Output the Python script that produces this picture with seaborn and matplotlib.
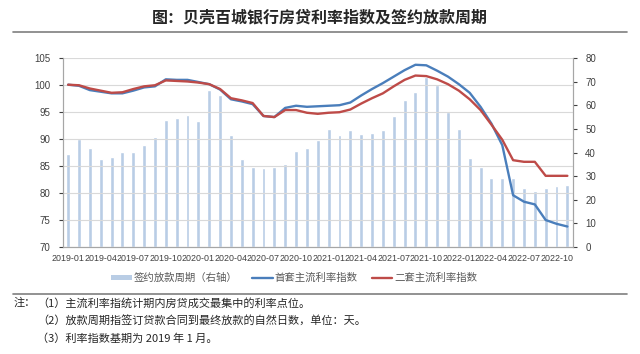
import matplotlib
matplotlib.use("Agg")
import matplotlib.pyplot as plt
from matplotlib.lines import Line2D
from matplotlib.patches import Patch
import seaborn as sns
import pandas as pd

months = [f"{y}-{m:02d}" for y in range(2019, 2023) for m in range(1, 13)][:47]

cycle_days = [39.4, 45.9, 42.1, 37.5, 38.2, 40.1, 40.4, 43.1, 46.5, 53.9,
              54.6, 55.8, 53.6, 66.4, 64.5, 47.5, 37.5, 33.8, 33.4, 33.9,
              35.3, 40.7, 42.1, 45.2, 50.2, 47.5, 49.6, 47.8, 48.3, 49.6,
              55.5, 62.5, 65.9, 72.2, 68.7, 57.4, 50.2, 37.9, 33.9, 29.1,
              29.1, 29.1, 24.9, 23.9, 24.9, 25.9, 26.1]

first_home = [100.1, 99.9, 99.1, 98.8, 98.5, 98.5, 99.0, 99.6, 99.8, 101.1,
              101.0, 101.0, 100.6, 100.2, 99.2, 97.4, 97.0, 96.5, 94.3, 94.1,
              95.8, 96.2, 96.0, 96.1, 96.2, 96.3, 96.8, 98.1, 99.3, 100.4,
              101.6, 102.8, 103.8, 103.7, 102.7, 101.6, 100.2, 98.6, 96.0, 92.9,
              88.9, 79.6, 78.4, 77.9, 75.0, 74.3, 73.8]

second_home = [100.1, 100.0, 99.4, 99.0, 98.6, 98.7, 99.3, 99.8, 100.0, 100.9,
               100.8, 100.7, 100.5, 100.2, 99.3, 97.6, 97.2, 96.7, 94.3, 94.1,
               95.4, 95.4, 94.9, 94.7, 94.9, 95.0, 95.5, 96.6, 97.6, 98.5,
               99.8, 101.0, 101.8, 101.7, 101.1, 100.2, 99.0, 97.4, 95.4, 92.7,
               89.9, 86.1, 85.8, 85.8, 83.2, 83.2, 83.2]

tick_labels = months[::3]

bar_label = "签约放款周期（右轴）"
first_label = "首套主流利率指数"
second_label = "二套主流利率指数"

notes = ["（1）主流利率指统计期内房贷成交最集中的利率点位。",
         "（2）放款周期指签订贷款合同到最终放款的自然日数，单位：天。",
         "（3）利率指数基期为 2019 年 1 月。"]

BAR_C = "#B9CDE5"
BLUE = "#4A7EBB"
RED = "#BE4B48"

df = pd.DataFrame({"month": months, "cycle": cycle_days,
                   "first": first_home, "second": second_home})

sns.set_style("white")
plt.rcParams['font.family'] = ['Liberation Sans', 'Noto Sans CJK SC', 'DejaVu Sans']
cjk = ['Noto Sans CJK SC', 'DejaVu Sans']

fig = plt.figure(figsize=(6.4, 3.54), dpi=100)
ax = fig.add_axes([0.098, 0.3023, 0.797, 0.533])
ax2 = ax.twinx()

# bars on the right axis, lines on the left axis drawn above them
sns.barplot(data=df, x="month", y="cycle", ax=ax2, color=BAR_C,
            saturation=1, width=0.36)
sns.lineplot(data=df, x="month", y="first", ax=ax, color=BLUE,
             linewidth=1.7, legend=False)
sns.lineplot(data=df, x="month", y="second", ax=ax, color=RED,
             linewidth=1.7, legend=False)
ax.set_zorder(ax2.get_zorder() + 1)
ax.patch.set_visible(False)

ax.set_ylim(70, 105)
ax.set_yticks(range(70, 106, 5))
ax2.set_ylim(0, 80)
ax2.set_yticks(range(0, 81, 10))
ax.set_xlim(-0.5, 46.5)
ax.set_xticks(range(0, 47, 3))
ax.set_xticklabels(tick_labels)
ax.set_xlabel("")
ax.set_ylabel("")
ax2.set_ylabel("")

ax.grid(axis="y", color="#d9d9d9", linewidth=0.8)
ax.grid(axis="x", visible=False)
ax2.grid(False)

for a in (ax, ax2):
    for s in a.spines.values():
        s.set_color("#a6a6a6")
        s.set_linewidth(0.8)
    a.spines["top"].set_visible(False)
ax.tick_params(axis="y", labelsize=7, colors="#404040", length=3,
               direction="out", left=True, pad=6)
ax2.tick_params(axis="y", labelsize=7, colors="#404040", length=3,
                direction="out", right=True, pad=6)
ax.tick_params(axis="x", labelsize=6.4, colors="#404040", length=0, pad=5)
for t in ax.get_yticklines() + ax2.get_yticklines():
    t.set_color("#a6a6a6")

handles = [Patch(facecolor=BAR_C, edgecolor="none"),
           Line2D([], [], color=BLUE, linewidth=1.7),
           Line2D([], [], color=RED, linewidth=1.7)]
fig.legend(handles, [bar_label, first_label, second_label], loc="center",
           bbox_to_anchor=(294 / 640, 1 - 278 / 354),
           ncol=3, frameon=False, handlelength=2.0, handleheight=0.45,
           columnspacing=1.4, handletextpad=0.15,
           prop={"family": cjk, "size": 7.5}, labelcolor="#595959")

fig.text(0.5, 1 - 17 / 354, "图：贝壳百城银行房贷利率指数及签约放款周期",
         ha="center", va="center", fontsize=11.5, fontweight="bold",
         family=cjk, color="#262626")
fig.add_artist(Line2D([13 / 640, 627 / 640], [1 - 32 / 354] * 2,
                      color="#7f7f7f", linewidth=1.2))
fig.add_artist(Line2D([13 / 640, 627 / 640], [1 - 294 / 354] * 2,
                      color="#7f7f7f", linewidth=1.2))

fig.text(14 / 640, 1 - 303 / 354, "注：", ha="left", va="center",
         fontsize=8, family=cjk, color="#262626")
for i, (x, y) in enumerate([(37, 303), (37, 321), (37, 339)]):
    fig.text(x / 640, 1 - y / 354, notes[i], ha="left", va="center",
             fontsize=8, family=cjk, color="#262626")

fig.savefig("out.png", dpi=100)
